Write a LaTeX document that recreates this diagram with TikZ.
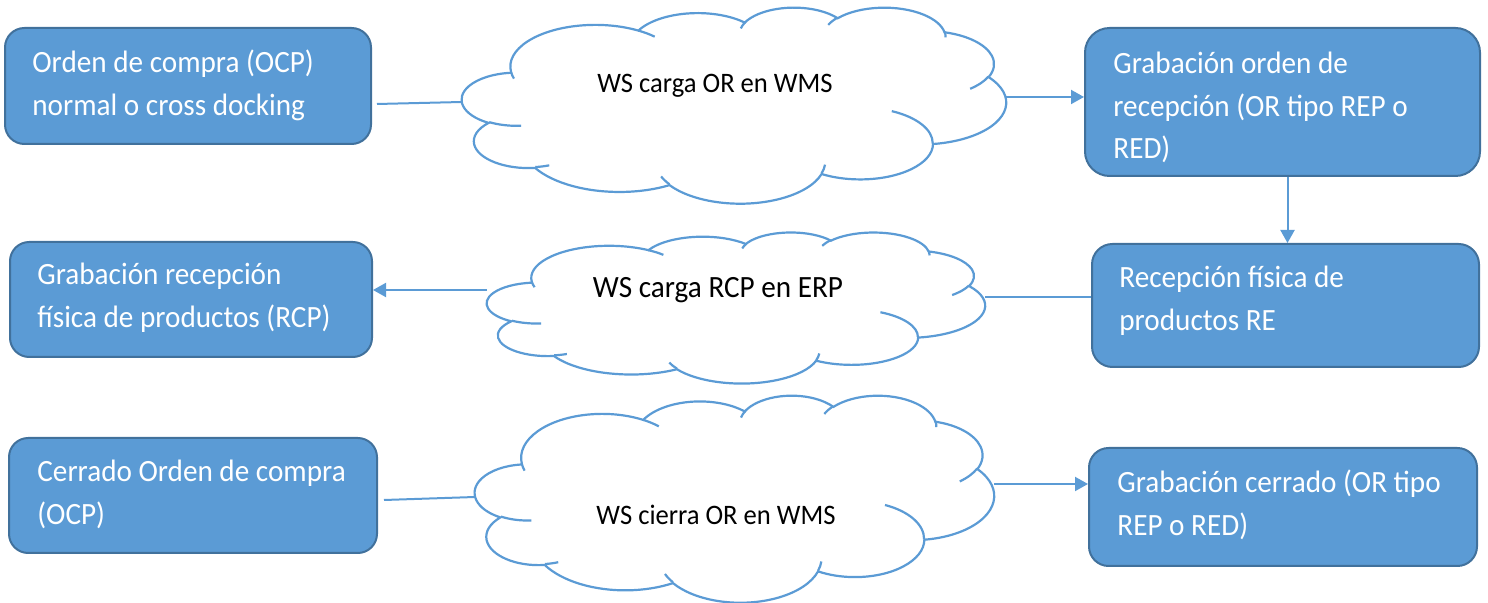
\documentclass[tikz,border=0pt]{standalone}
\usepackage{fontspec}
\usepackage{graphicx}
\setmainfont{Carlito}
\usetikzlibrary{arrows.meta}
\definecolor{boxfill}{HTML}{5B9BD5}
\definecolor{boxline}{HTML}{41719C}
\definecolor{cloudline}{HTML}{5B9BD5}
% Office cloud outline (frame 43.2 x 43.2), arcs given with visual angles
\newcommand\cloudouter{(3.9,14.37)}
\foreach \rx/\ry/\sa/\sw in {6.753/9.19/-190.487/123.781, 5.333/7.267/-144.102/89.945, 4.365/5.945/-145.808/99.723, 4.857/6.595/-130.986/117.242, 5.333/7.273/-78.709/109.027, 6.775/9.22/-46.267/130.269, 5.785/7.867/0.625/114.033, 6.752/9.215/22.452/115.173, 7.72/10.543/66.243/75.711, 4.36/5.918/-274.942/146.736, 4.345/5.945/-246.829/152.519}{%
  \pgfmathsetmacro\tA{atan2(\rx*sin(\sa),\ry*cos(\sa))}%
  \pgfmathsetmacro\tB{atan2(\rx*sin(\sa+\sw),\ry*cos(\sa+\sw))}%
  \pgfmathsetmacro\tD{mod(\tB-(\tA)+720,360)}%
  \xdef\cloudouter{\cloudouter arc[start angle=\tA, delta angle=\tD, x radius=\rx, y radius=\ry]}%
}
\newcommand\cloudinner{}
\foreach \px/\py/\rx/\ry/\sa/\sw in {4.693/26.177/4.345/5.945/86.742/26.430, 6.928/34.899/4.36/5.918/73.610/11.447, 16.478/39.090/6.752/9.215/137.624/14.081, 28.827/34.751/6.752/9.215/6.453/15.998, 34.129/22.954/5.785/7.867/-70.292/70.917, 41.798/15.354/5.333/7.273/30.318/27.752, 38.324/5.426/4.857/6.595/-13.744/14.859, 29.078/3.952/4.857/6.595/-149.181/18.195, 22.141/4.720/4.365/5.945/-163.494/17.686, 14.000/5.192/6.753/9.19/-66.707/12.319, 4.127/15.789/6.753/9.19/157.654/11.858}{%
  \pgfmathsetmacro\tA{atan2(\rx*sin(\sa),\ry*cos(\sa))}%
  \pgfmathsetmacro\tB{atan2(\rx*sin(\sa+\sw),\ry*cos(\sa+\sw))}%
  \pgfmathsetmacro\tD{mod(\tB-(\tA)+720,360)}%
  \xdef\cloudinner{\cloudinner (\px,\py) arc[start angle=\tA, delta angle=\tD, x radius=\rx, y radius=\ry]}%
}
\newcommand\drawcloud[4]{%
  \begin{scope}[shift={(#1,#2)}, x=1cm, y=1cm, xscale=#3/2458.3, yscale=-#4/2458.3]
    \draw[cloudstroke, fill=white] \cloudouter -- cycle;
    \draw[cloudstroke] \cloudinner;
  \end{scope}}
\newcommand\boxlines[1]{\scalebox{1}[1.06]{\begin{tabular}[t]{@{}l@{}}#1\end{tabular}}}
\newcommand\tallline[1]{\scalebox{1}[1.06]{#1}}
\begin{document}
\begin{tikzpicture}[x=0.5pt, y=-0.5pt,
  procbox/.style={draw=boxline, fill=boxfill, line width=1pt, inner sep=0pt},
  boxtext/.style={font=\fontsize{14.6}{19.9}\selectfont, text=white, anchor=base west, inner sep=0pt},
  cloudtext/.style={font=\fontsize{13.3}{16}\selectfont, text=black, anchor=base, inner sep=0pt},
  cloudstroke/.style={draw=cloudline, line width=1.1pt},
  conn/.style={draw=cloudline, line width=1pt},
  arrowconn/.style={conn, -{Triangle[length=6.5pt,width=7pt]}}]
\useasboundingbox (0,0) rectangle (1488,603);
% clouds
\drawcloud{462}{7}{544}{196}
\drawcloud{487}{232}{498}{151}
\drawcloud{475}{395}{519}{207}
\node[cloudtext] (ct1) at (715,93) {\tallline{WS carga OR en WMS}};
\node[cloudtext, font=\fontsize{14.6}{18}\selectfont] (ct2) at (718,298) {\tallline{WS carga RCP en ERP}};
\node[cloudtext] (ct3) at (716,525) {\tallline{WS cierra OR en WMS}};
\coordinate (c1l) at (462,102);
\coordinate (c1r) at (1006,97);
\coordinate (c2l) at (487,290);
\coordinate (c2r) at (985,297);
\coordinate (c3l) at (475,497);
\coordinate (c3r) at (994,484);
% boxes
\node[procbox, minimum width=183pt, minimum height=58pt, rounded corners=9.7pt] (b1) at (188,86) {};
\node[procbox, minimum width=197.5pt, minimum height=74pt, rounded corners=12.3pt] (b3) at (1282.5,102) {};
\node[procbox, minimum width=193.5pt, minimum height=61.5pt, rounded corners=10.2pt] (b4) at (1285.5,305.5) {};
\node[procbox, minimum width=181pt, minimum height=57.5pt, rounded corners=9.6pt] (b2) at (191,299.5) {};
\node[procbox, minimum width=184pt, minimum height=57.5pt, rounded corners=9.6pt] (b5) at (193,495.5) {};
\node[procbox, minimum width=194pt, minimum height=59pt, rounded corners=9.8pt] (b6) at (1283,507) {};
% box texts
\node[boxtext] (t1) at (32,73) {\boxlines{Orden de compra (OCP)\\normal o cross docking}};
\node[boxtext] (t3) at (1113,74) {\boxlines{Grabación orden de\\recepción (OR tipo REP o\\RED)}};
\node[boxtext] (t4) at (1119,288) {\boxlines{Recepción física de\\productos RE}};
\node[boxtext] (t2) at (37,285) {\boxlines{Grabación recepción\\física de productos (RCP)}};
\node[boxtext] (t5) at (37,482) {\boxlines{Cerrado Orden de compra\\(OCP)}};
\node[boxtext] (t6) at (1117,493) {\boxlines{Grabación cerrado (OR tipo\\REP o RED)}};
% connectors
\draw[conn] ([shift={(2.5pt,-9pt)}]b1.east) -- (c1l);
\draw[arrowconn] (c1r) -- (b3.west |- c1r);
\draw[arrowconn] ([xshift=2.5pt]b3.south) -- ([xshift=1pt]b4.north);
\draw[conn] (b4.west |- c2r) -- (c2r);
\draw[arrowconn] (c2l) -- (b2.east |- c2l);
\draw[conn] ([shift={(3pt,-2.25pt)}]b5.east) -- (c3l);
\draw[arrowconn] (c3r) -- (b6.west |- c3r);
\end{tikzpicture}
\end{document}
